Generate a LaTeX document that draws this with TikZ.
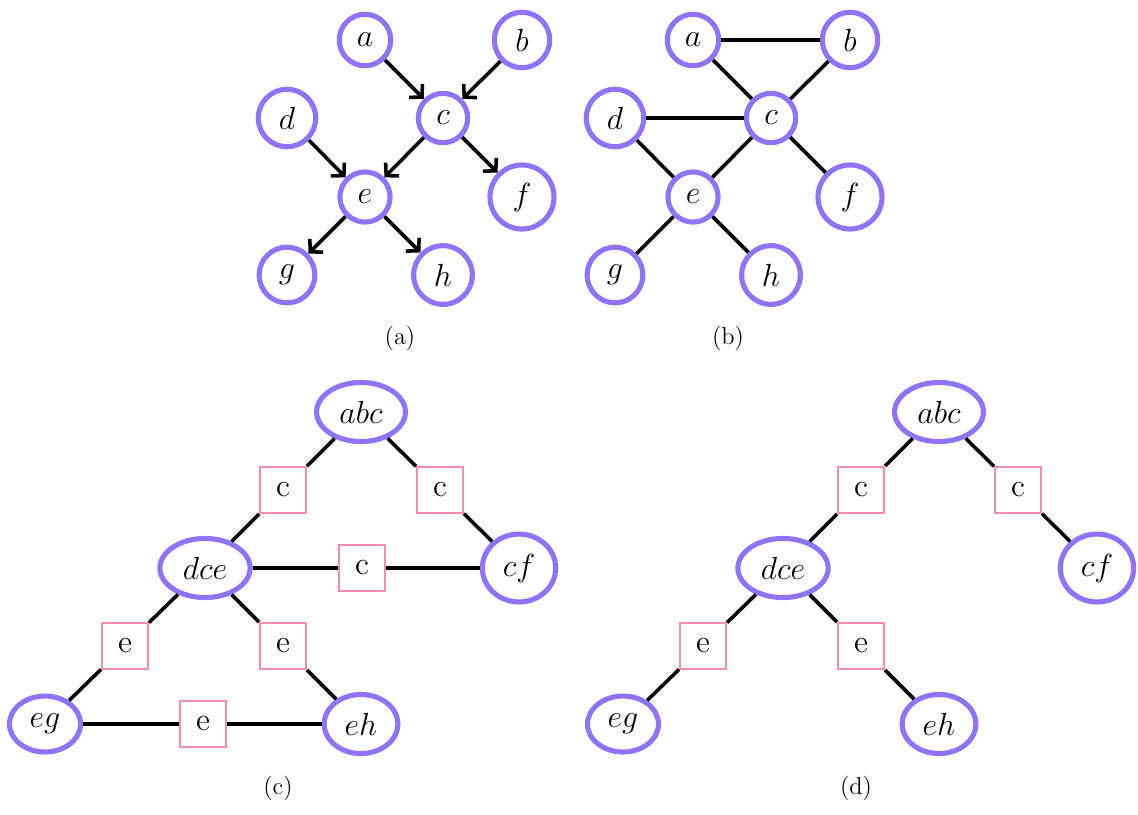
\documentclass[tikz,border=0pt]{standalone}
\usetikzlibrary{shapes.geometric,arrows.meta}
\definecolor{vpurple}{RGB}{145,115,250}
\definecolor{spink}{RGB}{245,140,180}
\begin{document}
\begin{tikzpicture}[x=0.45pt,y=-0.45pt,
  var/.style={circle,draw=vpurple,line width=2.3pt,inner sep=4.8pt,font=\Large},
  clq/.style={ellipse,draw=vpurple,line width=2.3pt,inner sep=4.4pt,font=\Large},
  sepbox/.style={rectangle,draw=spink,line width=0.8pt,minimum size=20.8pt,inner sep=0pt,font=\Large},
  edge/.style={line width=1.6pt},
  arr/.style={edge,-{Straight Barb[length=4pt,width=8.5pt]}},
  captext/.style={font=\fontsize{11}{13}\selectfont}]
\useasboundingbox (0,0) rectangle (1138,814);

% ---------- (a) ----------
\node[var] (aa) at (365,40)  {$a$};
\node[var] (ab) at (522,40)  {$b$};
\node[var] (ac) at (443,118) {$c$};
\node[var] (ad) at (287,118) {$d$};
\node[var] (ae) at (365,197) {$e$};
\node[var] (af) at (522,197) {$f$};
\node[var] (ag) at (287,275) {$g$};
\node[var] (ah) at (443,275) {$h$};
\draw[arr] (aa) -- (ac);
\draw[arr] (ab) -- (ac);
\draw[arr] (ad) -- (ae);
\draw[arr] (ac) -- (ae);
\draw[arr] (ac) -- (af);
\draw[arr] (ae) -- (ag);
\draw[arr] (ae) -- (ah);
\node[captext] (capa) at (400,338) {(a)};

% ---------- (b) ----------
\node[var] (ba) at (693,40)  {$a$};
\node[var] (bb) at (850,40)  {$b$};
\node[var] (bc) at (771,118) {$c$};
\node[var] (bd) at (615,118) {$d$};
\node[var] (be) at (693,197) {$e$};
\node[var] (bf) at (850,197) {$f$};
\node[var] (bg) at (615,275) {$g$};
\node[var] (bh) at (771,275) {$h$};
\draw[edge] (ba) -- (bb);
\draw[edge] (ba) -- (bc);
\draw[edge] (bb) -- (bc);
\draw[edge] (bd) -- (bc);
\draw[edge] (bd) -- (be);
\draw[edge] (bc) -- (be);
\draw[edge] (bc) -- (bf);
\draw[edge] (be) -- (bg);
\draw[edge] (be) -- (bh);
\node[captext] (capb) at (728,338) {(b)};

% ---------- (c) ----------
\node[clq] (cabc) at (361,412) {$abc$};
\node[clq] (cdce) at (205,568) {$dce$};
\node[clq] (ccf)  at (519,568) {$cf$};
\node[clq] (ceg)  at (45,724)  {$eg$};
\node[clq] (ceh)  at (361,724) {$eh$};
\node[sepbox] (cs1) at (283,490) {c};
\node[sepbox] (cs2) at (440,490) {c};
\node[sepbox] (cs3) at (362,568) {c};
\node[sepbox] (cs4) at (125,646) {e};
\node[sepbox] (cs5) at (283,646) {e};
\node[sepbox] (cs6) at (203,724) {e};
\draw[edge] (cabc) -- (cs1);
\draw[edge] (cs1) -- (cdce);
\draw[edge] (cabc) -- (cs2);
\draw[edge] (cs2) -- (ccf);
\draw[edge] (cdce) -- (cs3);
\draw[edge] (cs3) -- (ccf);
\draw[edge] (cdce) -- (cs4);
\draw[edge] (cs4) -- (ceg);
\draw[edge] (cdce) -- (cs5);
\draw[edge] (cs5) -- (ceh);
\draw[edge] (ceg) -- (cs6);
\draw[edge] (cs6) -- (ceh);
\node[captext] (capc) at (278,788) {(c)};

% ---------- (d) ----------
\node[clq] (dabc) at (939,412)  {$abc$};
\node[clq] (ddce) at (783,568)  {$dce$};
\node[clq] (dcf)  at (1097,568) {$cf$};
\node[clq] (deg)  at (623,724)  {$eg$};
\node[clq] (deh)  at (939,724)  {$eh$};
\node[sepbox] (ds1) at (861,490)  {c};
\node[sepbox] (ds2) at (1018,490) {c};
\node[sepbox] (ds4) at (703,646)  {e};
\node[sepbox] (ds5) at (861,646)  {e};
\draw[edge] (dabc) -- (ds1);
\draw[edge] (ds1) -- (ddce);
\draw[edge] (dabc) -- (ds2);
\draw[edge] (ds2) -- (dcf);
\draw[edge] (ddce) -- (ds4);
\draw[edge] (ds4) -- (deg);
\draw[edge] (ddce) -- (ds5);
\draw[edge] (ds5) -- (deh);
\node[captext] (capd) at (856,788) {(d)};
\end{tikzpicture}
\end{document}
